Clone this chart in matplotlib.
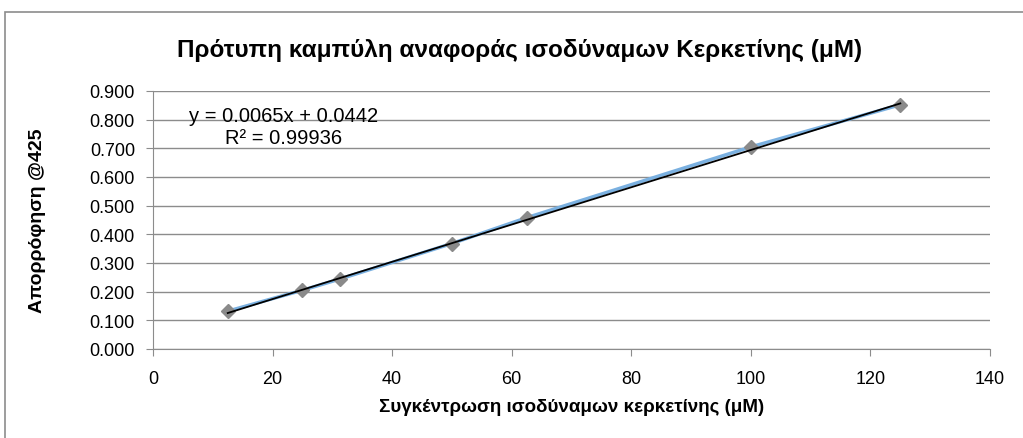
import numpy as np
import matplotlib.pyplot as plt
from matplotlib.patches import Rectangle

plt.rcParams['font.family'] = ['Liberation Sans', 'DejaVu Sans']

# δεδομένα καμπύλης αναφοράς
sygkentrosi = [12.5, 25, 31.25, 50, 62.5, 100, 125]
aporrofisi = [0.132, 0.205, 0.244, 0.368, 0.458, 0.705, 0.852]
klisi = 0.0065
tomi = 0.0442
r2 = 0.99936

x_ticks = [0, 20, 40, 60, 80, 100, 120, 140]
y_ticks = [0.0, 0.1, 0.2, 0.3, 0.4, 0.5, 0.6, 0.7, 0.8, 0.9]

fig = plt.figure(figsize=(10.23, 4.39), dpi=100)

# πλαίσιο γραφήματος
fig.patches.append(Rectangle((5 / 1023, -0.05), 1.1, 1 - 13 / 439 + 0.05,
                             transform=fig.transFigure, fill=False,
                             edgecolor='#8c8c8c', linewidth=1.2))

ax = fig.add_axes([153 / 1023, 1 - 350 / 439, (990 - 153) / 1023, (350 - 92) / 439])

ax.plot(sygkentrosi, aporrofisi, color='#7ab0e0', linewidth=2.5,
        marker='D', markersize=7, markerfacecolor='#8a8a8a',
        markeredgecolor='#8a8a8a', zorder=3)

xt = np.array([sygkentrosi[0], sygkentrosi[-1]])
ax.plot(xt, klisi * xt + tomi, color='black', linewidth=1.3, zorder=4)

ax.set_xlim(0, 140)
ax.set_ylim(0, 0.9)
ax.set_xticks(x_ticks)
ax.set_yticks(y_ticks)
ax.set_yticklabels([f"{v:.3f}" for v in y_ticks])
ax.tick_params(labelsize=13, colors='#8c8c8c', labelcolor='black', length=5)
ax.tick_params(axis='x', pad=10)
ax.tick_params(axis='y', pad=8)
ax.grid(axis='y', color='#8c8c8c', linewidth=1.0)
ax.set_axisbelow(True)
for s in ['top', 'right']:
    ax.spines[s].set_visible(False)
for s in ['left', 'bottom']:
    ax.spines[s].set_color('#8c8c8c')

ax.set_xlabel("Συγκέντρωση ισοδύναμων κερκετίνης (μM)", fontsize=13.5,
              fontweight='bold', labelpad=8)
ax.set_ylabel("Απορρόφηση @425", fontsize=14, fontweight='bold')
ax.yaxis.set_label_coords(-0.128, 0.5)

fig.text(520 / 1023, 1 - 50 / 439,
         "Πρότυπη καμπύλη αναφοράς ισοδύναμων Κερκετίνης (μM)",
         ha='center', va='center', fontsize=17.5, fontweight='bold')

ax.text(0.156, 0.905, f"y = {klisi}x + {tomi}", transform=ax.transAxes,
        ha='center', va='center', fontsize=14.5)
ax.text(0.156, 0.82, f"R² = {r2}", transform=ax.transAxes,
        ha='center', va='center', fontsize=14.5)

fig.savefig("out.png", dpi=100)
